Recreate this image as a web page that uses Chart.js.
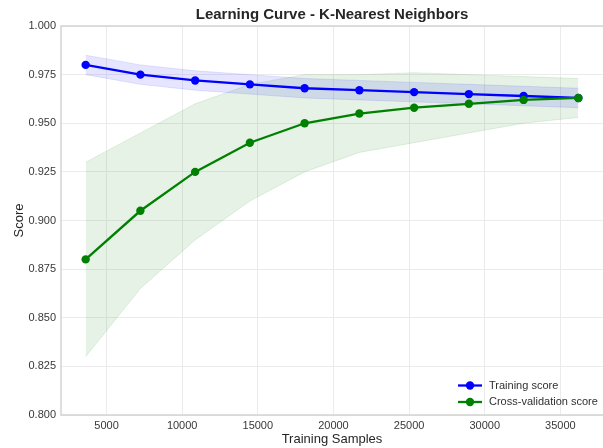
<!DOCTYPE html>
<html>
<head>
<meta charset="utf-8">
<script src="https://cdn.jsdelivr.net/npm/chart.js@4/dist/chart.umd.min.js"></script>
<style>
    body { margin: 0; background: #ffffff; }
    #wrap { width: 603px; height: 448px; }
</style>
</head>
<body>
<div id="wrap"><canvas id="curveChart" width="603" height="448"></canvas></div>
<script>
// Datos
const trainSizes = [3619, 7238, 10857, 14476, 18095, 21714, 25333, 28952, 32571, 36190];
const trainMean = [0.980, 0.975, 0.972, 0.970, 0.968, 0.967, 0.966, 0.965, 0.964, 0.963];
const trainStd = [0.005, 0.005, 0.005, 0.005, 0.005, 0.005, 0.005, 0.005, 0.005, 0.005];
const cvMean = [0.880, 0.905, 0.925, 0.940, 0.950, 0.955, 0.958, 0.960, 0.962, 0.963];
const cvStd = [0.050, 0.040, 0.035, 0.030, 0.025, 0.020, 0.018, 0.015, 0.012, 0.010];
const xTicks = [5000, 10000, 15000, 20000, 25000, 30000, 35000];
const yTicks = [0.800, 0.825, 0.850, 0.875, 0.900, 0.925, 0.950, 0.975, 1.000];

const FONT = "'Liberation Sans', Arial, sans-serif";

function puntos(valores, desv, signo) {
    return trainSizes.map((x, i) => ({ x: x, y: valores[i] + signo * desv[i] }));
}

function banda(valores, desv, signo, color, fill) {
    return {
        data: puntos(valores, desv, signo),
        borderColor: color,
        backgroundColor: color,
        borderWidth: 1,
        pointRadius: 0,
        fill: fill,
        order: 5,
        legend: false
    };
}

// Leyenda dibujada dentro del area del grafico (abajo a la derecha)
const leyendaInterna = {
    id: 'leyendaInterna',
    afterDraw(chart) {
        const ctx = chart.ctx;
        const area = chart.chartArea;
        const items = chart.data.datasets.filter(d => d.legend);
        ctx.save();
        ctx.font = '11px ' + FONT;
        ctx.textBaseline = 'middle';
        items.forEach((d, i) => {
            const y = area.bottom - 29.5 + i * 16.5;
            const x0 = area.right - 145;
            ctx.strokeStyle = d.borderColor;
            ctx.lineWidth = 2.3;
            ctx.beginPath();
            ctx.moveTo(x0, y);
            ctx.lineTo(x0 + 24, y);
            ctx.stroke();
            ctx.fillStyle = d.borderColor;
            ctx.beginPath();
            ctx.arc(x0 + 12, y, 4.2, 0, Math.PI * 2);
            ctx.fill();
            ctx.fillStyle = '#303030';
            ctx.fillText(d.label, x0 + 31, y);
        });
        ctx.restore();
    }
};

// Titulo centrado sobre el area de trazado, como en matplotlib
const tituloArea = {
    id: 'tituloArea',
    afterDraw(chart) {
        const ctx = chart.ctx;
        const area = chart.chartArea;
        ctx.save();
        ctx.font = 'bold 15px ' + FONT;
        ctx.fillStyle = '#262626';
        ctx.textAlign = 'center';
        ctx.textBaseline = 'middle';
        ctx.fillText('Learning Curve - K-Nearest Neighbors', (area.left + area.right) / 2, 15);
        ctx.restore();
    }
};

// Marco alrededor del area (el borde derecho queda fuera de la imagen)
const marco = {
    id: 'marco',
    beforeDatasetsDraw(chart) {
        const ctx = chart.ctx;
        const a = chart.chartArea;
        ctx.save();
        ctx.strokeStyle = '#d4d4d4';
        ctx.lineWidth = 1.5;
        ctx.beginPath();
        ctx.moveTo(a.right + 2, a.top);
        ctx.lineTo(a.left, a.top);
        ctx.lineTo(a.left, a.bottom);
        ctx.lineTo(a.right + 2, a.bottom);
        ctx.stroke();
        ctx.restore();
    }
};

const ctx = document.getElementById('curveChart').getContext('2d');
const curveChart = new Chart(ctx, {
    type: 'line',
    data: {
        datasets: [
            banda(trainMean, trainStd, 1, 'rgba(0, 0, 255, 0.1)', false),
            banda(trainMean, trainStd, -1, 'rgba(0, 0, 255, 0.1)', '-1'),
            banda(cvMean, cvStd, 1, 'rgba(0, 128, 0, 0.1)', false),
            banda(cvMean, cvStd, -1, 'rgba(0, 128, 0, 0.1)', '-1'),
            {
                label: 'Training score',
                data: trainSizes.map((x, i) => ({ x: x, y: trainMean[i] })),
                borderColor: '#0000ff',
                backgroundColor: '#0000ff',
                borderWidth: 2.3,
                pointRadius: 4.2,
                pointBorderWidth: 0,
                fill: false,
                order: 1,
                legend: true
            },
            {
                label: 'Cross-validation score',
                data: trainSizes.map((x, i) => ({ x: x, y: cvMean[i] })),
                borderColor: '#008000',
                backgroundColor: '#008000',
                borderWidth: 2.3,
                pointRadius: 4.2,
                pointBorderWidth: 0,
                fill: false,
                order: 0,
                legend: true
            }
        ]
    },
    options: {
        responsive: false,
        animation: false,
        layout: {
            autoPadding: false,
            padding: { top: 26, right: 0, bottom: 0, left: 0 }
        },
        plugins: {
            legend: { display: false },
            title: { display: false },
            tooltip: { enabled: false },
            filler: { drawTime: 'beforeDatasetsDraw' }
        },
        scales: {
            x: {
                type: 'linear',
                min: 1990,
                max: 37819,
                afterBuildTicks: function(axis) {
                    axis.ticks = xTicks.map(v => ({ value: v }));
                },
                afterFit: function(scale) {
                    scale.height = 33;
                    scale.paddingLeft = 0;
                    scale.paddingRight = 0;
                },
                grid: { color: '#ebebeb', lineWidth: 1, drawTicks: false },
                border: { display: false },
                ticks: {
                    padding: 4,
                    color: '#383838',
                    font: { family: FONT, size: 11 },
                    maxRotation: 0,
                    callback: function(value) { return String(value); }
                },
                title: {
                    display: true,
                    text: 'Training Samples',
                    color: '#262626',
                    font: { family: FONT, size: 13 },
                    padding: { top: 0, bottom: 1 }
                }
            },
            y: {
                min: 0.8,
                max: 1.0,
                afterBuildTicks: function(axis) {
                    axis.ticks = yTicks.map(v => ({ value: v }));
                },
                afterFit: function(scale) {
                    scale.width = 61;
                    scale.paddingTop = 0;
                    scale.paddingBottom = 0;
                },
                grid: { color: '#ebebeb', lineWidth: 1, drawTicks: false },
                border: { display: false },
                ticks: {
                    padding: 5,
                    color: '#383838',
                    font: { family: FONT, size: 11 },
                    callback: function(value) { return value.toFixed(3); }
                },
                title: {
                    display: true,
                    text: 'Score',
                    color: '#262626',
                    font: { family: FONT, size: 13 },
                    padding: { top: 12, bottom: 0 }
                }
            }
        }
    },
    plugins: [marco, tituloArea, leyendaInterna]
});
</script>
</body>
</html>
